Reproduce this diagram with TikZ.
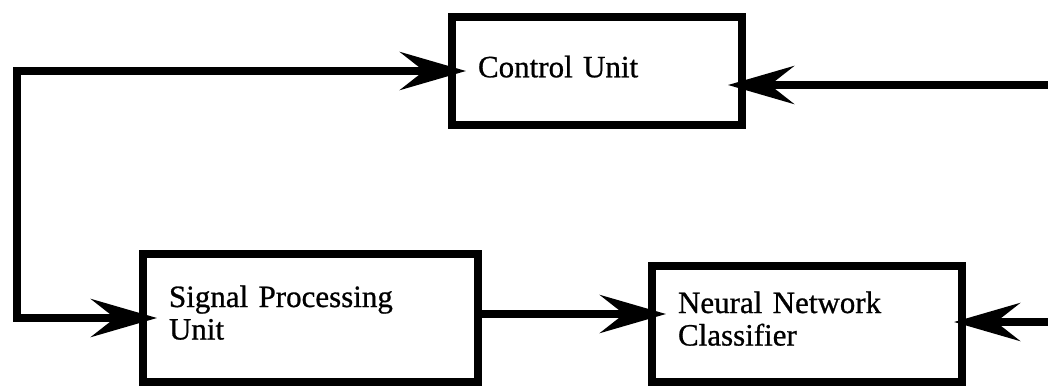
\documentclass[tikz,border=0pt]{standalone}
\usepackage{fontspec}
\setmainfont{Liberation Serif}[FakeBold=0.8]
\usetikzlibrary{arrows.meta,calc}
\begin{document}
\begin{tikzpicture}[x=1pt,y=1pt,
  blk/.style={draw, line width=8pt, inner sep=0pt, align=left,
    font=\fontsize{31}{32.5}\selectfont},
  conn/.style={line width=8pt, shorten >=-18pt},
  tipE/.style={-{Stealth[length=66pt,width=38pt,inset=24pt]}},
  tipB/.style={{Stealth[length=66pt,width=38pt,inset=24pt]}-{Stealth[length=66pt,width=38pt,inset=24pt]}, shorten <=-18pt}
]
\useasboundingbox (0,0) rectangle (1048,-386);
\node[blk, minimum width=290pt, minimum height=108pt, text width=238pt, text depth=9pt] (ctl) at (597,-71) {Control Unit};
\node[blk, minimum width=335pt, minimum height=128pt, text width=283pt, text depth=43.5pt] (sig) at (310.5,-318) {Signal Processing\\Unit};
\node[blk, minimum width=310pt, minimum height=116pt, text width=258pt, text depth=43.5pt] (nn) at (807,-324) {Neural Network\\Classifier};
\coordinate (loop) at (17,-318);
\coordinate (inR1) at (1048,-85);
\coordinate (inR2) at (1048,-322);
\draw[conn, tipB] (sig.west) -- (loop) |- (ctl.west);
\draw[conn, tipE] (inR1) -- (inR1 -| ctl.east);
\draw[conn, tipE, shorten >=-12pt] (inR2) -- (inR2 -| nn.east);
\draw[conn, tipE] ($(sig.east)+(0,4)$) -- ($(sig.east -| nn.west)+(0,4)$);
\end{tikzpicture}
\end{document}
